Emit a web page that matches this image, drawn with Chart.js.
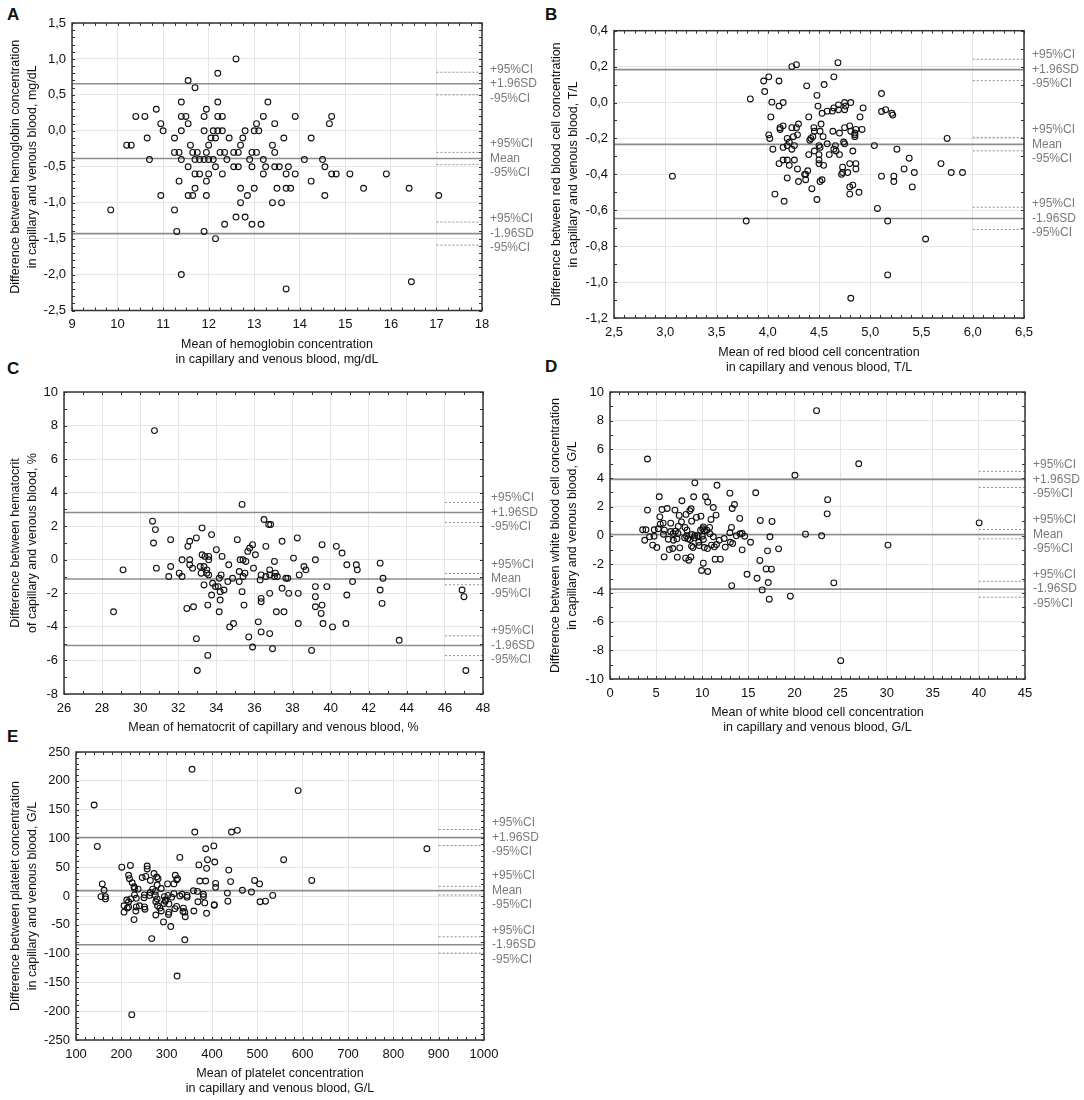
<!DOCTYPE html>
<html>
<head>
<meta charset="utf-8">
<script src="https://cdn.jsdelivr.net/npm/chart.js@4.4.1/dist/chart.umd.min.js"></script>
<style>
body { margin: 0; background: #fff; }
#fig { position: relative; width: 1084px; height: 1100px; font-family: "Liberation Sans", Arial, sans-serif; }
#fig canvas { position: absolute; }
.tag { position: absolute; font-weight: bold; font-size: 17px; line-height: 17px; color: #111; }
</style>
</head>
<body>
<div id="fig">
    <div class="tag" style="left:7px;top:6px">A</div>
    <div class="tag" style="left:545px;top:6px">B</div>
    <div class="tag" style="left:7px;top:360px">C</div>
    <div class="tag" style="left:545px;top:358px">D</div>
    <div class="tag" style="left:7px;top:728px">E</div>
    <canvas id="chartA"></canvas>
    <canvas id="chartB"></canvas>
    <canvas id="chartC"></canvas>
    <canvas id="chartD"></canvas>
    <canvas id="chartE"></canvas>
</div>
<script>
// A - hemoglobin
const hbMean = [12.6,12.2,11.55,11.7,11.4,12.2,13.3,10.85,11.95,10.4,10.6,11.4,11.5,11.9,12.2,12.3,13.2,13.9,14.7,10.95,11.55,13.05,13.45,14.65,11.0,11.4,11.9,12.1,12.2,12.3,12.8,13.0,13.1,10.65,11.25,12.05,12.15,12.45,12.75,13.65,14.25,10.2,10.3,11.6,12.0,12.7,13.4,11.25,11.35,11.65,11.75,11.95,12.25,12.35,12.55,12.65,12.95,13.05,13.45,10.7,11.4,11.7,11.8,11.9,12.0,12.1,12.4,12.9,13.2,14.1,14.5,11.55,12.15,12.55,12.65,12.95,13.25,13.45,13.55,13.75,14.55,11.7,11.8,12.0,12.3,13.2,13.7,13.9,14.7,14.8,15.1,15.9,11.35,11.95,14.25,11.7,12.7,13.0,13.5,13.7,13.8,15.4,16.4,10.95,11.55,11.65,11.95,12.85,14.55,17.05,12.7,13.4,13.6,9.85,11.25,12.6,12.8,12.35,12.95,13.15,11.3,11.9,12.15,11.4,13.7,16.45];
const hbDiff = [1.0,0.8,0.7,0.6,0.4,0.4,0.4,0.3,0.3,0.2,0.2,0.2,0.2,0.2,0.2,0.2,0.2,0.2,0.2,0.1,0.1,0.1,0.1,0.1,0,0,0,0,0,0,0,0,0,-0.1,-0.1,-0.1,-0.1,-0.1,-0.1,-0.1,-0.1,-0.2,-0.2,-0.2,-0.2,-0.2,-0.2,-0.3,-0.3,-0.3,-0.3,-0.3,-0.3,-0.3,-0.3,-0.3,-0.3,-0.3,-0.3,-0.4,-0.4,-0.4,-0.4,-0.4,-0.4,-0.4,-0.4,-0.4,-0.4,-0.4,-0.4,-0.5,-0.5,-0.5,-0.5,-0.5,-0.5,-0.5,-0.5,-0.5,-0.5,-0.6,-0.6,-0.6,-0.6,-0.6,-0.6,-0.6,-0.6,-0.6,-0.6,-0.6,-0.7,-0.7,-0.7,-0.8,-0.8,-0.8,-0.8,-0.8,-0.8,-0.8,-0.8,-0.9,-0.9,-0.9,-0.9,-0.9,-0.9,-0.9,-1.0,-1.0,-1.0,-1.1,-1.1,-1.2,-1.2,-1.3,-1.3,-1.3,-1.4,-1.4,-1.5,-2.0,-2.2,-2.1];
const hbLoA = [0.655, -0.385, -1.43];
const hbCI = [0.815, 0.50, -0.30, -0.47, -1.27, -1.59];

// B - red blood cells
const rbcMean = [4.685,4.235,4.28,4.01,3.96,4.11,4.55,4.645,4.38,3.97,5.11,3.83,4.48,4.04,4.15,4.11,4.49,4.75,4.81,4.69,4.76,4.93,4.645,4.58,4.63,4.69,4.75,4.53,5.11,5.15,5.21,5.22,4.03,4.40,4.90,4.15,4.12,4.12,4.235,4.30,4.28,4.45,4.455,4.52,4.51,4.635,4.75,4.70,4.80,4.81,4.86,4.85,4.85,4.85,4.92,4.01,4.02,4.19,4.25,4.29,4.41,4.42,4.44,4.54,4.21,4.26,4.15,4.19,4.235,4.05,4.50,4.51,4.58,4.66,4.645,4.665,4.74,4.75,4.83,5.04,5.26,4.455,4.40,4.50,4.60,4.70,4.15,4.19,4.26,4.11,4.21,4.50,4.50,4.545,4.73,4.80,4.86,4.86,5.38,5.33,5.69,5.75,4.29,4.39,4.36,4.37,4.73,4.72,4.78,5.11,5.23,5.43,5.79,5.90,3.07,4.19,4.37,4.30,5.23,4.53,4.51,4.83,4.80,5.41,4.43,4.07,4.80,4.89,4.16,4.48,5.07,3.79,5.17,5.54,5.17,4.81];
const rbcDiff = [0.222,0.20,0.211,0.143,0.12,0.12,0.10,0.143,0.093,0.061,0.05,0.02,0.04,0.002,0.0,-0.02,-0.02,0.0,0.0,-0.013,-0.02,-0.03,-0.03,-0.048,-0.048,-0.04,-0.04,-0.06,-0.05,-0.04,-0.06,-0.07,-0.08,-0.08,-0.08,-0.13,-0.14,-0.15,-0.14,-0.12,-0.14,-0.14,-0.16,-0.12,-0.16,-0.16,-0.14,-0.17,-0.13,-0.16,-0.15,-0.17,-0.18,-0.19,-0.15,-0.18,-0.20,-0.20,-0.19,-0.18,-0.21,-0.20,-0.19,-0.19,-0.22,-0.24,-0.25,-0.24,-0.26,-0.26,-0.24,-0.25,-0.23,-0.24,-0.26,-0.27,-0.22,-0.23,-0.27,-0.24,-0.26,-0.27,-0.29,-0.29,-0.29,-0.29,-0.32,-0.32,-0.32,-0.34,-0.35,-0.32,-0.34,-0.35,-0.36,-0.34,-0.34,-0.37,-0.31,-0.37,-0.34,-0.20,-0.37,-0.38,-0.40,-0.40,-0.39,-0.40,-0.39,-0.41,-0.41,-0.39,-0.39,-0.39,-0.41,-0.42,-0.43,-0.44,-0.44,-0.43,-0.44,-0.46,-0.47,-0.47,-0.48,-0.51,-0.51,-0.50,-0.55,-0.54,-0.59,-0.66,-0.66,-0.76,-0.96,-1.09];
const rbcLoA = [0.183, -0.233, -0.646];
const rbcCI = [0.241, 0.122, -0.194, -0.269, -0.583, -0.707];

// C - hematocrit
const hctMean = [30.75,35.35,30.65,30.8,36.5,36.75,36.85,33.25,30.7,31.6,32.6,32.5,32.95,33.75,35.1,35.9,35.75,35.65,36.6,37.45,38.25,39.55,40.3,40.6,34.0,36.05,33.25,33.4,33.6,34.3,33.6,32.2,32.6,35.25,35.4,35.55,37.05,38.05,39.2,29.1,30.85,31.6,32.6,32.75,33.15,33.35,33.5,33.2,33.5,33.6,32.05,32.2,31.5,34.65,35.2,35.5,35.4,35.95,36.8,36.35,36.6,36.8,37.1,37.05,37.2,37.65,37.75,38.6,38.7,38.35,40.85,41.35,41.4,42.6,42.75,34.15,34.25,34.85,34.6,35.2,36.3,33.8,33.35,33.95,34.1,34.4,34.2,35.35,33.75,36.8,37.45,37.8,38.3,39.2,39.8,39.2,40.85,41.15,42.6,42.7,46.9,47.0,32.45,32.8,33.55,34.2,34.15,35.45,36.35,36.35,37.15,37.55,39.2,39.55,39.5,28.6,34.7,34.9,36.2,38.3,39.6,40.1,40.8,32.95,35.7,36.35,36.8,43.6,35.9,36.95,39.0,33.55,33.0,47.1];
const hctDiff = [7.7,3.3,2.3,1.8,2.4,2.1,2.1,1.9,1.0,1.2,1.1,0.8,1.3,1.5,1.2,0.9,0.7,0.5,0.8,1.1,1.3,0.9,0.8,0.4,0.6,0.3,0.3,0.2,0.2,0.2,0.0,0.0,0.0,0.0,0.0,-0.1,-0.1,0.1,0.0,-0.6,-0.5,-0.4,-0.3,-0.5,-0.4,-0.4,-0.6,-0.8,-0.8,-0.9,-0.8,-1.0,-1.0,-0.3,-0.7,-0.8,-1.0,-0.5,-0.6,-0.9,-1.0,-0.9,-0.8,-1.0,-1.0,-1.1,-1.1,-0.4,-0.6,-0.9,-0.3,-0.3,-0.6,-0.2,-1.1,-1.1,-0.9,-1.1,-1.3,-1.3,-1.2,-1.4,-1.5,-1.6,-1.6,-1.8,-1.9,-1.9,-2.1,-2.0,-1.7,-2.0,-2.0,-1.6,-1.6,-2.2,-2.1,-1.3,-1.8,-2.6,-1.8,-2.2,-2.9,-2.8,-2.7,-2.4,-3.1,-2.7,-2.3,-2.5,-3.1,-3.1,-2.8,-2.7,-3.2,-3.1,-4.0,-3.8,-3.7,-3.8,-3.8,-4.0,-3.8,-4.7,-4.6,-4.3,-4.4,-4.8,-5.2,-5.3,-5.4,-5.7,-6.6,-6.6];
const hctLoA = [2.82, -1.15, -5.11];
const hctCI = [3.42, 2.23, -0.82, -1.49, -4.53, -5.71];

// D - white blood cells
const wbcMean = [22.4,4.06,26.97,20.05,9.2,11.6,13.0,15.8,5.34,9.07,10.35,23.6,7.8,10.6,13.5,13.25,11.2,4.06,5.64,6.2,7.04,8.8,8.65,23.55,7.5,8.24,11.5,5.4,9.37,9.86,14.07,10.95,16.3,17.57,40.03,5.45,6.58,5.76,7.75,8.85,7.4,8.13,10.12,10.8,8.35,13.17,3.54,3.9,4.8,5.23,5.9,6.58,6.85,9.82,10.05,10.23,10.5,10.83,7.1,7.37,5.8,8.3,8.9,9.2,9.55,10.0,13.0,14.1,14.33,13.7,14.6,21.2,22.95,17.34,3.76,4.29,4.78,6.32,6.88,7.26,8.09,8.43,8.69,9.14,9.63,10.12,11.2,11.85,12.38,13.05,13.3,11.0,11.55,4.63,5.08,6.8,7.56,6.43,8.84,9.0,9.67,10.23,10.57,11.32,12.5,15.24,14.33,18.28,17.08,5.87,7.3,8.2,8.54,8.77,11.4,11.96,10.12,9.93,10.6,16.25,16.93,17.5,14.86,15.95,13.2,17.16,24.27,16.5,19.56,17.27,25.02,30.14];
const wbcDiff = [8.7,5.33,5.0,4.2,3.67,3.5,2.95,2.98,2.7,2.7,2.7,2.5,2.42,2.33,2.16,1.88,1.95,1.77,1.81,1.88,1.77,1.86,1.72,1.51,1.4,1.47,1.42,1.3,1.26,1.35,1.19,1.12,1.05,0.98,0.88,0.79,0.86,0.86,0.95,1.0,0.63,0.56,0.6,0.56,0.37,0.56,0.4,0.4,0.4,0.47,0.37,0.28,0.14,0.37,0.47,0.33,0.37,0.12,0.3,0.14,0.09,-0.05,0.07,0,-0.02,-0.05,0.19,0.12,0.14,-0.02,-0.05,0.09,-0.02,-0.09,-0.33,-0.09,-0.05,-0.26,-0.33,-0.23,-0.16,-0.23,-0.28,-0.16,-0.47,-0.28,-0.09,-0.33,-0.21,-0.47,-0.56,-0.67,-0.63,-0.67,-0.84,-0.91,-0.86,-0.98,-0.74,-0.84,-0.7,-0.84,-0.91,-0.79,-0.81,-0.47,-1.0,-0.93,-1.07,-1.49,-1.51,-1.58,-1.72,-1.49,-1.65,-1.65,-1.93,-2.44,-2.51,-1.74,-2.33,-2.35,-2.7,-2.98,-3.49,-3.28,-3.3,-3.79,-4.23,-4.44,-8.72,-0.67];
const wbcLoA = [3.91, 0.07, -3.74];
const wbcCI = [4.47, 3.35, 0.42, -0.23, -3.19, -4.30];

// E - platelets
const pltMean = [356,590,140,147,874,362,443,456,404,386,558,329,390,371,388,406,437,201,220,257,257,216,218,272,281,278,246,254,264,319,324,322,620,494,505,441,373,386,408,408,302,316,158,162,155,165,165,224,228,229,237,279,288,269,264,262,251,250,229,233,221,216,212,206,206,216,213,240,233,232,228,251,252,275,275,279,276,280,285,288,276,295,297,297,294,303,311,305,304,305,293,309,267,340,323,223,316,329,334,345,345,359,368,369,381,381,384,337,318,322,340,336,341,360,388,405,405,434,435,467,487,506,518,534];
const pltDiff = [220,183,158,86,82,111,111,114,87,82,63,67,63,54,48,59,45,50,53,52,47,36,30,39,30,33,32,34,27,36,30,28,27,27,21,25,26,26,22,15,21,21,21,10,-1,-1,-5,23,16,13,12,19,13,12,6,1,2,-3,2,-4,-5,-10,-7,-17,-28,-19,-21,-17,-19,-26,-41,-19,-23,8,1,-5,-10,-17,-21,-26,-33,-1,-7,-9,-13,1,-2,-14,-32,-28,-45,-53,-74,-76,-139,-206,4,0,3,1,-2,9,8,-10,3,-1,-12,-21,-22,-18,-28,-27,-36,-26,-30,-15,-16,5,-9,10,7,-10,-9,1];
const pltLoA = [101.5, 9.3, -84.7];
const pltCI = [115.4, 87.6, 16.8, 1.7, -70.8, -99.2];

const loaNames = ['+1.96SD', 'Mean', '-1.96SD'];

Chart.defaults.font.family = '"Liberation Sans", Arial, sans-serif';

function fmt(v, dec) {
    let s = (Math.round(v * 100) / 100).toFixed(dec);
    if (/^-0[.]?0*$/.test(s)) s = s.slice(1);
    return s.replace('.', ',');
}

// frame, minor ticks and the limit labels on the right
function overlay(p) {
    return {
        id: 'overlay' + p.id,
        afterDraw(chart) {
            const ctx = chart.ctx;
            const a = chart.chartArea;
            const xs = chart.scales.x, ys = chart.scales.y;
            ctx.save();
            ctx.strokeStyle = '#333';
            ctx.lineWidth = 1;
            ctx.beginPath();
            const xm = p.xStep / p.xSub, ym = p.yStep / p.ySub;
            for (let i = 0; p.xMin + i * xm <= p.xMax + 1e-9; i++) {
                const px = Math.round(xs.getPixelForValue(p.xMin + i * xm)) + 0.5;
                ctx.moveTo(px, a.bottom); ctx.lineTo(px, a.bottom - 3);
                ctx.moveTo(px, a.top); ctx.lineTo(px, a.top + 3);
            }
            for (let i = 0; p.yMin + i * ym <= p.yMax + 1e-9; i++) {
                const py = Math.round(ys.getPixelForValue(p.yMin + i * ym)) + 0.5;
                ctx.moveTo(a.left, py); ctx.lineTo(a.left + 3, py);
                ctx.moveTo(a.right, py); ctx.lineTo(a.right - 3, py);
            }
            ctx.stroke();
            ctx.lineWidth = 1.5;
            ctx.strokeRect(a.left, a.top, a.right - a.left, a.bottom - a.top);

            ctx.fillStyle = '#7a7a7a';
            ctx.font = '12px "Liberation Sans", Arial, sans-serif';
            ctx.textAlign = 'left';
            ctx.textBaseline = 'middle';
            const lh = 14.5;
            const c = p.loa.map(v => ys.getPixelForValue(v));
            for (let i = 1; i < c.length; i++) {
                if (c[i] - c[i - 1] < 3 * lh) c[i] = c[i - 1] + 3 * lh;
            }
            c.forEach((cy, i) => {
                ctx.fillText('+95%CI', a.right + 8, cy - lh);
                ctx.fillText(loaNames[i], a.right + 8, cy);
                ctx.fillText('-95%CI', a.right + 8, cy + lh);
            });
            ctx.restore();
        }
    };
}

function build(p) {
    const cv = document.getElementById(p.id);
    cv.width = p.w;
    cv.height = p.h;
    cv.style.left = p.left + 'px';
    cv.style.top = p.top + 'px';
    const [pl, pt, pr, pb] = p.plot;

    const datasets = [{
        type: 'scatter',
        data: p.x.map((v, i) => ({x: v, y: p.y[i]})),
        pointRadius: 2.9,
        pointBorderWidth: 1.1,
        borderColor: '#111',
        backgroundColor: 'rgba(0,0,0,0)',
        order: 0
    }];
    p.loa.forEach(v => datasets.push({
        type: 'line',
        data: [{x: p.xMin, y: v}, {x: p.xMax, y: v}],
        borderColor: '#8c8c8c',
        borderWidth: 1.6,
        pointRadius: 0,
        order: 1
    }));
    p.ci.forEach(v => datasets.push({
        type: 'line',
        data: [{x: p.xMax - p.xStep, y: v}, {x: p.xMax, y: v}],
        borderColor: '#8c8c8c',
        borderWidth: 1,
        borderDash: [2, 2],
        pointRadius: 0,
        order: 1
    }));

    new Chart(cv, {
        type: 'scatter',
        data: {datasets: datasets},
        options: {
            responsive: false,
            animation: false,
            devicePixelRatio: 1,
            layout: {padding: {left: 0, top: pt - p.top, right: p.left + p.w - pr, bottom: 0}},
            plugins: {legend: {display: false}, tooltip: {enabled: false}},
            scales: {
                x: {
                    type: 'linear',
                    min: p.xMin,
                    max: p.xMax,
                    afterFit: s => { s.height = p.top + p.h - pb; },
                    grid: {color: '#e6e6e6', drawTicks: false},
                    border: {display: false},
                    ticks: {
                        stepSize: p.xStep, autoSkip: false, maxRotation: 0, padding: 6.5,
                        color: '#111', font: {size: 13},
                        callback: v => fmt(v, p.xDec)
                    },
                    title: {
                        display: true, text: p.xTitle, color: '#111',
                        font: {size: 12.5, lineHeight: 1.2},
                        padding: {top: 0, bottom: 2.5}
                    }
                },
                y: {
                    type: 'linear',
                    min: p.yMin,
                    max: p.yMax,
                    afterFit: s => { s.width = pl - p.left; },
                    grid: {color: '#e6e6e6', drawTicks: false},
                    border: {display: false},
                    ticks: {
                        stepSize: p.yStep, autoSkip: false, padding: 6,
                        color: '#111', font: {size: 13},
                        callback: v => fmt(v, p.yDec)
                    },
                    title: {
                        display: true, text: p.yTitle, color: '#111',
                        font: {size: 12.5, lineHeight: 1.36},
                        padding: {top: p.yPad, bottom: 0}
                    }
                }
            }
        },
        plugins: [overlay(p)]
    });
}

build({
    id: 'chartA', left: 0, top: 0, w: 540, h: 370, plot: [72, 23, 482, 310.5],
    x: hbMean, y: hbDiff, loa: hbLoA, ci: hbCI,
    xMin: 9, xMax: 18, xStep: 1, xDec: 0, xSub: 4, yMin: -2.5, yMax: 1.5, yStep: 0.5, yDec: 1, ySub: 5, yPad: 7,
    xTitle: ['Mean of hemoglobin concentration', 'in capillary and venous blood, mg/dL'],
    yTitle: ['Difference between hemoglobin concentration', 'in capillary and venous blood, mg/dL']
});
build({
    id: 'chartB', left: 540, top: 0, w: 544, h: 378, plot: [614, 30.7, 1024, 318],
    x: rbcMean, y: rbcDiff, loa: rbcLoA, ci: rbcCI,
    xMin: 2.5, xMax: 6.5, xStep: 0.5, xDec: 1, xSub: 5, yMin: -1.2, yMax: 0.4, yStep: 0.2, yDec: 1, ySub: 2, yPad: 8.5,
    xTitle: ['Mean of red blood cell concentration', 'in capillary and venous blood, T/L'],
    yTitle: ['Difference between red blood cell concentration', 'in capillary and venous blood, T/L']
});
build({
    id: 'chartC', left: 0, top: 370, w: 540, h: 368, plot: [64, 392, 483, 694],
    x: hctMean, y: hctDiff, loa: hctLoA, ci: hctCI,
    xMin: 26, xMax: 48, xStep: 2, xDec: 0, xSub: 2, yMin: -8, yMax: 10, yStep: 2, yDec: 0, ySub: 2, yPad: 7,
    xTitle: ['Mean of hematocrit of capillary and venous blood, %'],
    yTitle: ['Difference between hematocrit', 'of capillary and venous blood, %']
});
build({
    id: 'chartD', left: 540, top: 378, w: 544, h: 360, plot: [610, 392, 1025, 679],
    x: wbcMean, y: wbcDiff, loa: wbcLoA, ci: wbcCI,
    xMin: 0, xMax: 45, xStep: 5, xDec: 0, xSub: 5, yMin: -10, yMax: 10, yStep: 2, yDec: 0, ySub: 2, yPad: 7,
    xTitle: ['Mean of white blood cell concentration', 'in capillary and venous blood, G/L'],
    yTitle: ['Difference between white blood cell concentration', 'in capillary and venous blood, G/L']
});
build({
    id: 'chartE', left: 0, top: 738, w: 540, h: 361, plot: [76, 752, 484, 1040],
    x: pltMean, y: pltDiff, loa: pltLoA, ci: pltCI,
    xMin: 100, xMax: 1000, xStep: 100, xDec: 0, xSub: 5, yMin: -250, yMax: 250, yStep: 50, yDec: 0, ySub: 5, yPad: 7,
    xTitle: ['Mean of platelet concentration', 'in capillary and venous blood, G/L'],
    yTitle: ['Difference between platelet concentration', 'in capillary and venous blood, G/L']
});
</script>
</body>
</html>
